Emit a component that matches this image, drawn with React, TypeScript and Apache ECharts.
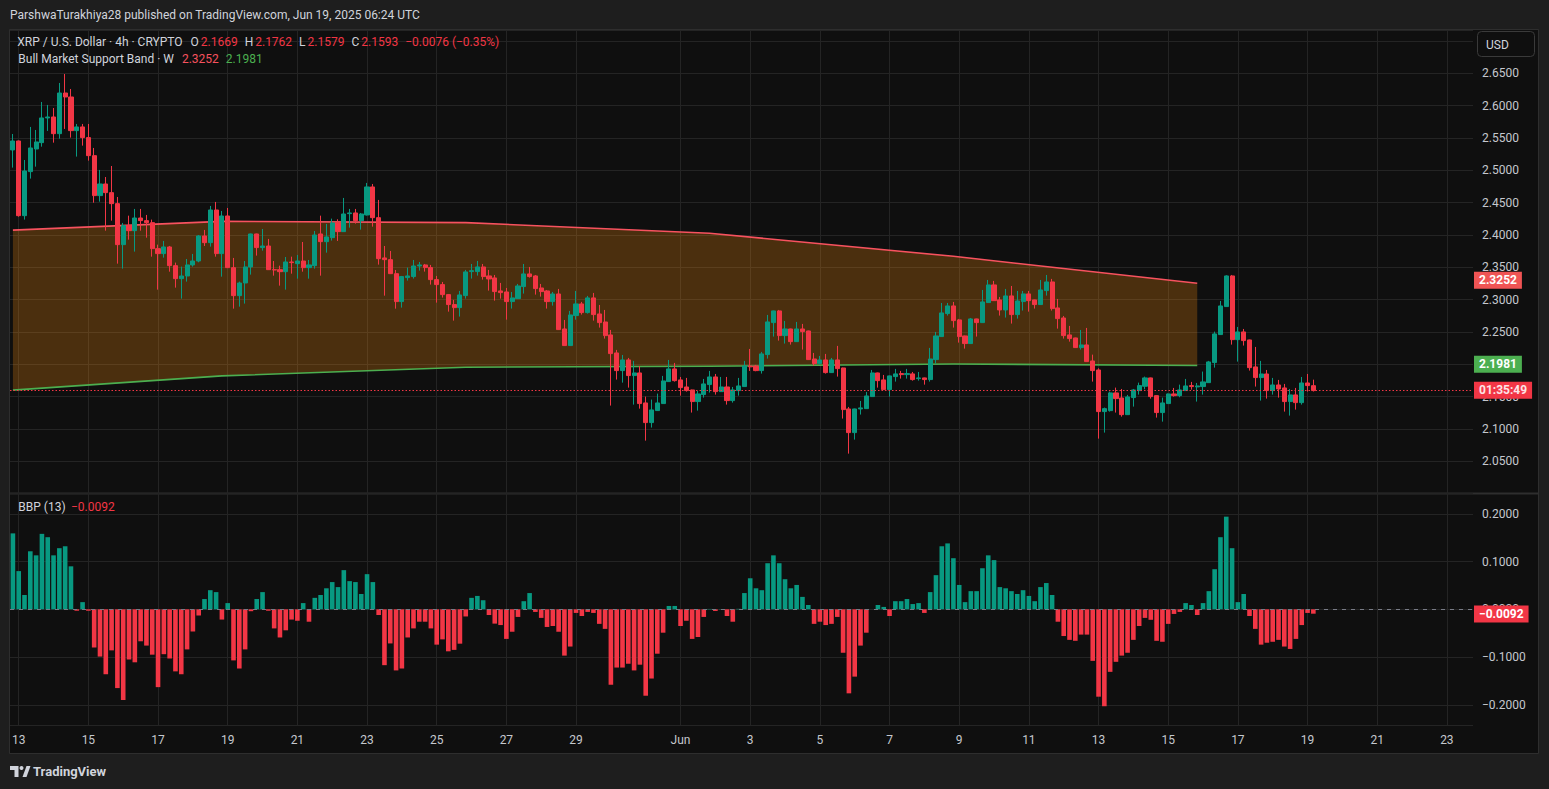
import React, { useEffect, useRef } from 'react';
import * as echarts from 'echarts';

// ---- time axis: 2-hour slots so candles (4h) sit on every other slot ----
const SLOT_START_UTC = Date.UTC(2025, 4, 12, 18, 0);
const SLOT_HOURS = 2;
const SLOT_COUNT = 505;
const FIRST_CANDLE = '2025-05-12 20:00';

// ---- XRP/USD 4h candles: [open, high, low, close] ----
const OHLC: number[][] = [
  [2.5314, 2.5561, 2.5041, 2.5453], [2.5453, 2.546, 2.4283, 2.4298], [2.4298, 2.5159, 2.4237, 2.4989], [2.4979, 2.567, 2.4871, 2.5345],
  [2.5329, 2.5623, 2.5056, 2.5438], [2.5427, 2.6056, 2.5365, 2.5809], [2.5809, 2.601, 2.5608, 2.5824], [2.5824, 2.5963, 2.5427, 2.5566],
  [2.5566, 2.635, 2.5489, 2.6195], [2.6195, 2.6489, 2.5639, 2.6133], [2.6133, 2.6257, 2.5505, 2.5613], [2.5613, 2.5716, 2.5211, 2.567],
  [2.567, 2.5716, 2.5381, 2.5505], [2.5505, 2.5716, 2.5149, 2.5226], [2.5226, 2.5345, 2.4499, 2.4608], [2.4608, 2.5005, 2.4515, 2.4788],
  [2.4788, 2.4896, 2.4066, 2.4654], [2.4654, 2.5066, 2.4221, 2.4484], [2.4484, 2.4587, 2.3556, 2.385], [2.385, 2.4185, 2.3479, 2.4144],
  [2.4144, 2.4298, 2.3927, 2.4066], [2.4066, 2.4402, 2.3742, 2.4262], [2.4262, 2.4402, 2.4066, 2.4221], [2.4221, 2.4309, 2.3958, 2.419],
  [2.419, 2.4237, 2.3664, 2.3788], [2.3788, 2.385, 2.3154, 2.3711], [2.3711, 2.3907, 2.3649, 2.3814], [2.3814, 2.383, 2.3432, 2.3525],
  [2.3525, 2.3572, 2.3185, 2.3324], [2.3324, 2.351, 2.3015, 2.3365], [2.3365, 2.3628, 2.3278, 2.3536], [2.3536, 2.3706, 2.351, 2.3597],
  [2.3597, 2.3999, 2.3577, 2.3984], [2.3984, 2.4077, 2.3829, 2.3881], [2.3881, 2.4448, 2.3819, 2.4386], [2.4386, 2.451, 2.3664, 2.3711],
  [2.3711, 2.4371, 2.3355, 2.4293], [2.4293, 2.4417, 2.349, 2.3494], [2.3494, 2.3644, 2.286, 2.3061], [2.3061, 2.3278, 2.2891, 2.3257],
  [2.3257, 2.3597, 2.2938, 2.3505], [2.3505, 2.402, 2.3386, 2.4015], [2.4015, 2.402, 2.368, 2.3804], [2.3804, 2.4092, 2.3757, 2.3829],
  [2.3829, 2.3938, 2.346, 2.3463], [2.3463, 2.3597, 2.337, 2.3458], [2.3463, 2.3525, 2.3216, 2.3432], [2.3432, 2.3659, 2.3154, 2.3582],
  [2.3582, 2.3664, 2.3401, 2.3572], [2.3556, 2.369, 2.3324, 2.3597], [2.3597, 2.3891, 2.3432, 2.3494], [2.3494, 2.3613, 2.3324, 2.3536],
  [2.3525, 2.4061, 2.3479, 2.3999], [2.4015, 2.4298, 2.337, 2.3896], [2.3896, 2.417, 2.3726, 2.3969], [2.3958, 2.4252, 2.3912, 2.4185],
  [2.4185, 2.4242, 2.3907, 2.4051], [2.4051, 2.4572, 2.4045, 2.4324], [2.4329, 2.4402, 2.4113, 2.434], [2.434, 2.4402, 2.4175, 2.4221],
  [2.4221, 2.434, 2.4082, 2.4324], [2.4309, 2.4804, 2.43, 2.4742], [2.4742, 2.4788, 2.4128, 2.4267], [2.4267, 2.4541, 2.3541, 2.3633],
  [2.3644, 2.3829, 2.3061, 2.3618], [2.3618, 2.3752, 2.3395, 2.3401], [2.3401, 2.3458, 2.286, 2.2969], [2.2969, 2.3366, 2.2876, 2.3356],
  [2.334, 2.3495, 2.3294, 2.3366], [2.3356, 2.3613, 2.3325, 2.352], [2.352, 2.3582, 2.3448, 2.3536], [2.3536, 2.3551, 2.3433, 2.3495],
  [2.3495, 2.3536, 2.3232, 2.3309], [2.3309, 2.3366, 2.2953, 2.3232], [2.3232, 2.3273, 2.3031, 2.3077], [2.3077, 2.3087, 2.2814, 2.2923],
  [2.2923, 2.2995, 2.2675, 2.2876], [2.2876, 2.3134, 2.2737, 2.3072], [2.3062, 2.3459, 2.3015, 2.3428], [2.3433, 2.3551, 2.3325, 2.3448],
  [2.3433, 2.3598, 2.3371, 2.3505], [2.3505, 2.3551, 2.3309, 2.3356], [2.3366, 2.3459, 2.3139, 2.3319], [2.3335, 2.3381, 2.2984, 2.3124],
  [2.3134, 2.3258, 2.3015, 2.3108], [2.3118, 2.318, 2.269, 2.2969], [2.2969, 2.3118, 2.2861, 2.3026], [2.3015, 2.3242, 2.301, 2.3211],
  [2.3201, 2.3551, 2.3093, 2.3397], [2.3397, 2.3505, 2.334, 2.3356], [2.3366, 2.3381, 2.3077, 2.317], [2.318, 2.3242, 2.3046, 2.3124],
  [2.3134, 2.3149, 2.2861, 2.2969], [2.2969, 2.3118, 2.2907, 2.3087], [2.3087, 2.3165, 2.2531, 2.2536], [2.2546, 2.2685, 2.2284, 2.2289],
  [2.2289, 2.2825, 2.2284, 2.2763], [2.2753, 2.3134, 2.269, 2.2933], [2.2933, 2.2964, 2.2768, 2.2799], [2.2799, 2.3057, 2.2784, 2.3026],
  [2.3026, 2.3103, 2.2675, 2.2768], [2.2778, 2.2917, 2.2567, 2.2644], [2.2654, 2.284, 2.2397, 2.2443], [2.2454, 2.2531, 2.1361, 2.2165],
  [2.2175, 2.2222, 2.1763, 2.1902], [2.1902, 2.2144, 2.1716, 2.2067], [2.2067, 2.2098, 2.1639, 2.1825], [2.1825, 2.2052, 2.1376, 2.1866],
  [2.1866, 2.1974, 2.1314, 2.1392], [2.1402, 2.15, 2.0819, 2.1098], [2.1098, 2.1454, 2.1021, 2.1294], [2.1284, 2.1546, 2.1279, 2.1402],
  [2.1392, 2.182, 2.1387, 2.1742], [2.1732, 2.2067, 2.1727, 2.1928], [2.1928, 2.2021, 2.1732, 2.1747], [2.1758, 2.1804, 2.1515, 2.1639],
  [2.1649, 2.1789, 2.1577, 2.1593], [2.1603, 2.1608, 2.1253, 2.1423], [2.1423, 2.1588, 2.1283, 2.1541], [2.1531, 2.1773, 2.1484, 2.1696],
  [2.1686, 2.1897, 2.1562, 2.1804], [2.1804, 2.185, 2.1531, 2.1577], [2.1577, 2.1804, 2.1572, 2.1649], [2.1649, 2.1804, 2.1376, 2.1438],
  [2.1438, 2.1649, 2.1407, 2.1603], [2.1593, 2.1789, 2.1515, 2.1665], [2.1655, 2.2052, 2.165, 2.1974], [2.1974, 2.2237, 2.1897, 2.196],
  [2.1974, 2.199, 2.1892, 2.1902], [2.1902, 2.2191, 2.1856, 2.216], [2.215, 2.2763, 2.2088, 2.2655], [2.2644, 2.283, 2.2428, 2.2825],
  [2.2825, 2.284, 2.2366, 2.2443], [2.2443, 2.267, 2.232, 2.2546], [2.2546, 2.2551, 2.2304, 2.235], [2.235, 2.2655, 2.2345, 2.2546],
  [2.2546, 2.2624, 2.2227, 2.2505], [2.2515, 2.252, 2.2067, 2.2072], [2.2082, 2.2175, 2.1979, 2.201], [2.201, 2.2129, 2.1995, 2.2067],
  [2.2067, 2.216, 2.1856, 2.1871], [2.1871, 2.2098, 2.1866, 2.2067], [2.2067, 2.2284, 2.1809, 2.1933], [2.1943, 2.1948, 2.116, 2.1299],
  [2.1309, 2.134, 2.0618, 2.0943], [2.0943, 2.1314, 2.0835, 2.1309], [2.1309, 2.1433, 2.1222, 2.1325], [2.1314, 2.1572, 2.1309, 2.151],
  [2.15, 2.1912, 2.1495, 2.1866], [2.1866, 2.1871, 2.1639, 2.1747], [2.1758, 2.1835, 2.1603, 2.1608], [2.1608, 2.1825, 2.15, 2.182],
  [2.1809, 2.1928, 2.1732, 2.1851], [2.1856, 2.1897, 2.1778, 2.184], [2.184, 2.1928, 2.1778, 2.1856], [2.1851, 2.1881, 2.1747, 2.1763],
  [2.1778, 2.1881, 2.1747, 2.1789], [2.1789, 2.1794, 2.1685, 2.1763], [2.1763, 2.2253, 2.1732, 2.2082], [2.2072, 2.25, 2.201, 2.2438],
  [2.2428, 2.2948, 2.2423, 2.2794], [2.2784, 2.2948, 2.2753, 2.2902], [2.2902, 2.2964, 2.2567, 2.2675], [2.2686, 2.2701, 2.2335, 2.2428],
  [2.2438, 2.2443, 2.2242, 2.232], [2.232, 2.2716, 2.2315, 2.2701], [2.2701, 2.2706, 2.2428, 2.2644], [2.2644, 2.3149, 2.2639, 2.2964],
  [2.2954, 2.3304, 2.2949, 2.3227], [2.3227, 2.3289, 2.2979, 2.2984], [2.2995, 2.3041, 2.2753, 2.284], [2.284, 2.3165, 2.2722, 2.3057],
  [2.3057, 2.3211, 2.2629, 2.2768], [2.2768, 2.3134, 2.2706, 2.2979], [2.2969, 2.3134, 2.283, 2.3088], [2.3088, 2.3134, 2.2814, 2.2984],
  [2.2995, 2.3, 2.2861, 2.2923], [2.2923, 2.3304, 2.2918, 2.3149], [2.3139, 2.3381, 2.3062, 2.3273], [2.3273, 2.332, 2.283, 2.2861],
  [2.2871, 2.301, 2.2551, 2.2706], [2.2716, 2.2747, 2.2397, 2.2443], [2.2454, 2.2593, 2.235, 2.2397], [2.2407, 2.2412, 2.2253, 2.2258],
  [2.2258, 2.2531, 2.2227, 2.2299], [2.2299, 2.2562, 2.2036, 2.2041], [2.2051, 2.2149, 2.1732, 2.1902], [2.1912, 2.1938, 2.085, 2.1268],
  [2.1268, 2.133, 2.0943, 2.1314], [2.1283, 2.1577, 2.1268, 2.1557], [2.1557, 2.1639, 2.1253, 2.1469], [2.1479, 2.1618, 2.119, 2.1221],
  [2.1221, 2.1526, 2.1216, 2.1495], [2.1485, 2.1618, 2.1345, 2.1603], [2.1593, 2.1716, 2.1531, 2.167], [2.166, 2.1809, 2.1613, 2.1789],
  [2.1789, 2.1794, 2.1469, 2.15], [2.1515, 2.152, 2.1175, 2.1253], [2.1253, 2.1484, 2.1113, 2.1402], [2.1392, 2.1546, 2.1387, 2.1541],
  [2.1541, 2.1634, 2.15, 2.1515], [2.1515, 2.1685, 2.149, 2.1603], [2.1593, 2.1773, 2.1588, 2.1665], [2.167, 2.1727, 2.1608, 2.1655],
  [2.165, 2.1711, 2.1423, 2.1665], [2.1655, 2.1887, 2.1531, 2.1727], [2.1716, 2.2052, 2.1711, 2.2036], [2.2026, 2.2505, 2.1948, 2.2469],
  [2.2459, 2.2979, 2.2454, 2.2902], [2.2892, 2.3376, 2.2887, 2.3366], [2.3366, 2.3381, 2.2304, 2.2381], [2.2381, 2.2577, 2.2041, 2.25],
  [2.25, 2.2546, 2.2289, 2.2366], [2.2376, 2.2381, 2.1902, 2.1948], [2.1959, 2.2268, 2.1655, 2.1794], [2.1794, 2.2052, 2.1438, 2.185],
  [2.185, 2.1912, 2.1469, 2.1593], [2.1593, 2.1789, 2.1531, 2.168], [2.168, 2.1758, 2.1484, 2.1618], [2.1634, 2.1696, 2.1268, 2.1423],
  [2.1423, 2.1618, 2.1206, 2.1526], [2.1526, 2.1634, 2.1299, 2.1407], [2.1407, 2.1804, 2.1376, 2.1711], [2.1711, 2.185, 2.1577, 2.167],
  [2.1669, 2.1762, 2.1579, 2.1593],
];

// ---- Bull Bear Power (13) ----
const BBP: number[] = [
  0.159, 0.08, 0.03, 0.1215, 0.113, 0.158, 0.151, 0.113, 0.128, 0.132,
  0.09, -0.003, 0.015, -0.003, -0.08, -0.099, -0.136, -0.086, -0.165, -0.19,
  -0.105, -0.111, -0.067, -0.076, -0.095, -0.163, -0.094, -0.103, -0.13, -0.136,
  -0.084, -0.0465, -0.013, 0.0215, 0.04, 0.036, -0.0215, 0.013, -0.107, -0.124,
  -0.084, -0.004, 0.0215, 0.036, -0.003, -0.04, -0.059, -0.044, -0.0215, -0.024,
  0.013, -0.026, 0.024, 0.03, 0.044, 0.057, 0.0465, 0.082, 0.059, 0.057,
  0.032, 0.0736, 0.057, -0.012, -0.117, -0.0715, -0.128, -0.124, -0.059, -0.04,
  -0.026, -0.026, -0.04, -0.074, -0.063, -0.088,
  -0.085, -0.072, -0.015, 0.024, 0.028, 0.019, -0.012, -0.03,
  -0.033, -0.062, -0.047, -0.016, 0.017, 0.034, -0.0055, -0.018, -0.037, -0.035,
  -0.047, -0.097, -0.078, -0.0076, -0.014, -0.0055, -0.0076, -0.0305, -0.041, -0.158,
  -0.122, -0.122, -0.114, -0.128, -0.116, -0.181, -0.145, -0.093, -0.049, 0.007,
  0.007, -0.035, -0.024, -0.062, -0.058, -0.016, 0.0008, -0.0035, 0.0005, -0.014,
  -0.026, 0.001, 0.034, 0.065, 0.044, 0.04, 0.0965, 0.113, 0.0965, 0.063,
  0.044, 0.051, 0.026, 0.009, -0.0305, -0.026, -0.033, -0.0305, -0.016, -0.091,
  -0.176, -0.141, -0.076, -0.049, 0.0, 0.009, 0.005, -0.014,
  0.017, 0.017, 0.0215, 0.011, 0.013, -0.0076, 0.036, 0.0715,
  0.132, 0.138, 0.107, 0.051, 0.015, 0.038, 0.038, 0.086, 0.113, 0.103,
  0.0465, 0.044, 0.038, 0.032, 0.04, 0.028, 0.017, 0.0465, 0.055, 0.03,
  -0.026, -0.056, -0.064, -0.066, -0.053, -0.053, -0.108, -0.183, -0.203, -0.131,
  -0.11, -0.097, -0.091, -0.064, -0.035, -0.018, -0.022, -0.066, -0.068, -0.0305,
  -0.0097, -0.0055, 0.013, 0.009, -0.012, 0.013, 0.038, 0.084, 0.151, 0.194,
  0.128, 0.015, 0.032, -0.014, -0.041, -0.074, -0.07, -0.068, -0.064, -0.078,
  -0.083, -0.062, -0.033, -0.0076, -0.0092,
];

// ---- Bull Market Support Band (weekly) ----
const BAND_TIMES = ['2025-05-12 20:00', '2025-05-18 20:00', '2025-05-25 20:00', '2025-06-01 20:00', '2025-06-08 20:00', '2025-06-15 20:00'];
const BAND_UPPER = [2.4075, 2.421, 2.419, 2.4026, 2.367, 2.3252];
const BAND_LOWER = [2.16, 2.182, 2.1955, 2.197, 2.2005, 2.1981];

// ---- axis ticks ----
const TICK_DATES = ['2025-05-13', '2025-05-15', '2025-05-17', '2025-05-19', '2025-05-21', '2025-05-23', '2025-05-25', '2025-05-27', '2025-05-29', '2025-06-01', '2025-06-03', '2025-06-05', '2025-06-07', '2025-06-09', '2025-06-11', '2025-06-13', '2025-06-15', '2025-06-17', '2025-06-19', '2025-06-21', '2025-06-23'];
const TICK_LABELS = ['13', '15', '17', '19', '21', '23', '25', '27', '29', 'Jun', '3', '5', '7', '9', '11', '13', '15', '17', '19', '21', '23'];

const LAST_PRICE = 2.1593;
const LAST_BBP = -0.0092;
const CHANGE_TEXT = '\u22120.0076 (\u22120.35%)';
const COUNTDOWN = '01:35:49';

const UP = '#089981';
const DOWN = '#f23645';
const BAND_RED = '#f7525f';
const BAND_GREEN = '#4caf50';
const TEXT = '#d1d4dc';
const AXIS_TEXT = '#c5c8ce';
const GRID = '#242424';
const FONT = 'Roboto, "Noto Sans", sans-serif';

function slotLabel(k: number): string {
  const d = new Date(SLOT_START_UTC + k * SLOT_HOURS * 3600 * 1000);
  return d.toISOString().slice(0, 10) + ' ' + d.toISOString().slice(11, 16);
}

const minus = (s: string) => s.replace('-', '\u2212');

export default function App() {
  const ref = useRef<HTMLDivElement>(null);

  useEffect(() => {
    document.body.style.margin = '0';
    document.body.style.background = '#1e1e1e';
    if (!ref.current) return;
    const chart = echarts.init(ref.current, null, { renderer: 'svg' });

    const categories: string[] = [];
    for (let k = 0; k < SLOT_COUNT; k++) categories.push(slotLabel(k));
    const firstSlot = categories.indexOf(FIRST_CANDLE);
    const tickMap = new Map<number, string>();
    TICK_DATES.forEach((d, j) => tickMap.set(categories.indexOf(d + ' 00:00'), TICK_LABELS[j]));
    const showTick = (idx: number) => tickMap.has(idx);

    const candleData = OHLC.map((r, i) => [firstSlot + 2 * i, r[0], r[3], r[2], r[1]]);
    const bbpData = BBP.map((v, i) => ({
      value: [firstSlot + 2 * i, v],
      itemStyle: { color: v >= 0 ? UP : DOWN },
    }));
    const bandRows = BAND_TIMES.map((t, k) => [categories.indexOf(t), BAND_UPPER[k], BAND_LOWER[k]]);
    const last = OHLC[OHLC.length - 1];
    const upperLast = BAND_UPPER[BAND_UPPER.length - 1];
    const lowerLast = BAND_LOWER[BAND_LOWER.length - 1];

    const xAxisBase = {
      type: 'category' as const,
      data: categories,
      boundaryGap: false,
      axisLine: { show: false },
      axisTick: { show: false },
      splitLine: { show: true, interval: (i: number) => showTick(i), lineStyle: { color: GRID, width: 1 } },
    };

    const hiddenLine = { color: 'rgba(0,0,0,0)', width: 0 };
    const labelBox = (text: string, bg: string, color = '#ffffff') => ({
      show: true,
      position: 'end',
      distance: 1,
      formatter: text,
      backgroundColor: bg,
      color,
      fontFamily: FONT,
      fontSize: 12,
      fontWeight: 'bold',
      lineHeight: 13,
      padding: [2, 5, 2, 5],
    });

    const txt = (x: number, y: number, text: string, fill: string, extra: any = {}) => ({
      type: 'text',
      x,
      y,
      z: 20,
      silent: true,
      style: { text, fill, font: `12px ${FONT}`, verticalAlign: 'middle', textVerticalAlign: 'middle', ...extra },
    });

    const f12 = `12px ${FONT}`;
    const rich = {
      t: { fill: TEXT, font: f12 },
      r: { fill: DOWN, font: f12 },
      ur: { fill: BAND_RED, font: f12 },
      ug: { fill: BAND_GREEN, font: f12 },
      s8: { width: 8 },
      s7: { width: 7 },
      s2: { width: 2 },
    };

    const legend1 =
      '{t|XRP / U.S. Dollar · 4h · CRYPTO}{s8|}' +
      `{t|O}{s2|}{r|${last[0].toFixed(4)}}{s7|}` +
      `{t|H}{s2|}{r|${last[1].toFixed(4)}}{s7|}` +
      `{t|L}{s2|}{r|${last[2].toFixed(4)}}{s7|}` +
      `{t|C}{s2|}{r|${last[3].toFixed(4)}}{s7|}` +
      `{r|${CHANGE_TEXT}}`;
    const legend2 = `{t|Bull Market Support Band · W}{s8|}{ur|${upperLast.toFixed(4)}}{s7|}{ug|${lowerLast.toFixed(4)}}`;

    const option: any = {
      animation: false,
      backgroundColor: '#0f0f0f',
      grid: [
        { left: 10, top: 30, width: 1463, height: 463.6 },
        { left: 10, top: 493.6, width: 1463, height: 231.4 },
      ],
      xAxis: [
        { ...xAxisBase, gridIndex: 0, axisLabel: { show: false } },
        {
          ...xAxisBase,
          gridIndex: 1,
          axisLabel: {
            show: true,
            interval: (i: number) => showTick(i),
            formatter: (_v: string, i: number) => tickMap.get(i) || '',
            color: AXIS_TEXT,
            fontFamily: FONT,
            fontSize: 12,
            margin: 9,
          },
        },
      ],
      yAxis: [
        {
          type: 'value',
          gridIndex: 0,
          position: 'right',
          min: 2.0,
          max: 2.7169,
          interval: 0.05,
          axisLine: { show: false },
          axisTick: { show: false },
          splitLine: { show: true, lineStyle: { color: GRID, width: 1 } },
          axisLabel: {
            color: AXIS_TEXT,
            fontFamily: FONT,
            fontSize: 12,
            margin: 9,
            align: 'left',
            formatter: (v: number) => (v < 2.0001 || v > 2.6999 ? '' : v.toFixed(4)),
          },
        },
        {
          type: 'value',
          gridIndex: 1,
          position: 'right',
          min: -0.2423,
          max: 0.2423,
          splitNumber: 5,
          axisLine: { show: false },
          axisTick: { show: false },
          splitLine: { show: true, lineStyle: { color: GRID, width: 1 } },
          axisLabel: {
            color: AXIS_TEXT,
            fontFamily: FONT,
            fontSize: 12,
            margin: 9,
            align: 'left',
            showMinLabel: false,
            showMaxLabel: false,
            formatter: (v: number) => {
              const r = Math.round(v * 10) / 10;
              if (Math.abs(v - r) > 1e-6) return '';
              return minus(r.toFixed(4));
            },
          },
        },
      ],
      series: [
        {
          type: 'custom',
          name: 'band',
          xAxisIndex: 0,
          yAxisIndex: 0,
          z: 1,
          silent: true,
          data: bandRows,
          encode: { x: 0, y: [1, 2] },
          renderItem: (params: any, api: any) => {
            if (params.dataIndex !== 0) return null;
            const up = bandRows.map((r) => api.coord([r[0], r[1]]));
            const lo = bandRows.map((r) => api.coord([r[0], r[2]]));
            return {
              type: 'group',
              children: [
                { type: 'polygon', shape: { points: up.concat(lo.slice().reverse()) }, style: { fill: 'rgba(255,145,10,0.25)', stroke: 'none' } },
                { type: 'polyline', shape: { points: up }, style: { stroke: BAND_RED, lineWidth: 1.6, fill: 'none' } },
                { type: 'polyline', shape: { points: lo }, style: { stroke: BAND_GREEN, lineWidth: 1.6, fill: 'none' } },
              ],
            };
          },
        },
        {
          type: 'candlestick',
          name: 'XRPUSD',
          xAxisIndex: 0,
          yAxisIndex: 0,
          z: 3,
          barWidth: 4.6,
          data: candleData,
          encode: { x: 0, y: [1, 2, 3, 4] },
          itemStyle: { color: UP, color0: DOWN, borderColor: UP, borderColor0: DOWN, borderWidth: 1 },
          markLine: {
            silent: true,
            symbol: ['none', 'none'],
            animation: false,
            data: [
              { yAxis: upperLast, lineStyle: hiddenLine, label: labelBox(upperLast.toFixed(4), '#f05454') },
              { yAxis: lowerLast, lineStyle: hiddenLine, label: labelBox(lowerLast.toFixed(4), BAND_GREEN) },
              {
                yAxis: LAST_PRICE,
                lineStyle: { color: DOWN, width: 1, type: [1.5, 2] },
                label: labelBox(COUNTDOWN, DOWN, '#fde4e7'),
              },
            ],
          },
        },
        {
          type: 'bar',
          name: 'BBP',
          xAxisIndex: 1,
          yAxisIndex: 1,
          barWidth: 4.6,
          data: bbpData,
          markLine: {
            silent: true,
            symbol: ['none', 'none'],
            animation: false,
            data: [
              { yAxis: 0, lineStyle: { color: '#787b86', width: 1, type: [4, 5] }, label: { show: false } },
              { yAxis: LAST_BBP, lineStyle: hiddenLine, label: labelBox(minus(LAST_BBP.toFixed(4)), DOWN) },
            ],
          },
        },
      ],
      graphic: [
        // outer frame
        { type: 'rect', shape: { x: 0, y: 0, width: 1549, height: 29.5 }, style: { fill: '#1e1e1e' }, silent: true },
        { type: 'rect', shape: { x: 0, y: 0, width: 9.5, height: 789 }, style: { fill: '#1e1e1e' }, silent: true },
        { type: 'rect', shape: { x: 1538.5, y: 0, width: 11, height: 789 }, style: { fill: '#1e1e1e' }, silent: true },
        { type: 'rect', shape: { x: 0, y: 753.5, width: 1549, height: 36 }, style: { fill: '#1e1e1e' }, silent: true },
        { type: 'rect', shape: { x: 9.5, y: 29.5, width: 1529, height: 724 }, style: { fill: 'none', stroke: '#2e2e2e', lineWidth: 1 }, silent: true },
        { type: 'line', shape: { x1: 10, y1: 493.5, x2: 1538, y2: 493.5 }, style: { stroke: '#2e2e2e', lineWidth: 2 }, silent: true },
        // header
        txt(10, 14.7, 'ParshwaTurakhiya28 published on TradingView.com, Jun 19, 2025 06:24 UTC', TEXT),
        // legends
        txt(17.3, 42.3, legend1, TEXT, { rich }),
        txt(18.3, 59, legend2, TEXT, { rich }),
        // BBP title
        txt(18.3, 507.3, 'BBP (13)', TEXT),
        txt(71, 507.3, minus(LAST_BBP.toFixed(4)), DOWN),
        // USD box
        { type: 'rect', z: 20, shape: { x: 1477.5, y: 31.5, width: 57, height: 25, r: 4 }, style: { fill: '#0f0f0f', stroke: '#3a3a3a', lineWidth: 1 } },
        txt(1486, 44.5, 'USD', TEXT),
        // TradingView logo
        { type: 'polygon', shape: { points: [[10, 766], [18.5, 766], [18.5, 777], [14.5, 777], [14.5, 770], [10, 770]] }, style: { fill: TEXT } },
        { type: 'circle', shape: { cx: 21.5, cy: 768, r: 2 }, style: { fill: TEXT } },
        { type: 'polygon', shape: { points: [[22.5, 777], [26.5, 766], [30.5, 766], [26.5, 777]] }, style: { fill: TEXT } },
        txt(33, 771.5, 'TradingView', TEXT, { font: `bold 13px ${FONT}` }),
      ],
    };

    chart.setOption(option);
    return () => chart.dispose();
  }, []);

  return (
    <div
      ref={ref}
      style={{ position: 'fixed', left: 0, top: 0, width: 1549, height: 789, overflow: 'hidden' }}
    />
  );
}
